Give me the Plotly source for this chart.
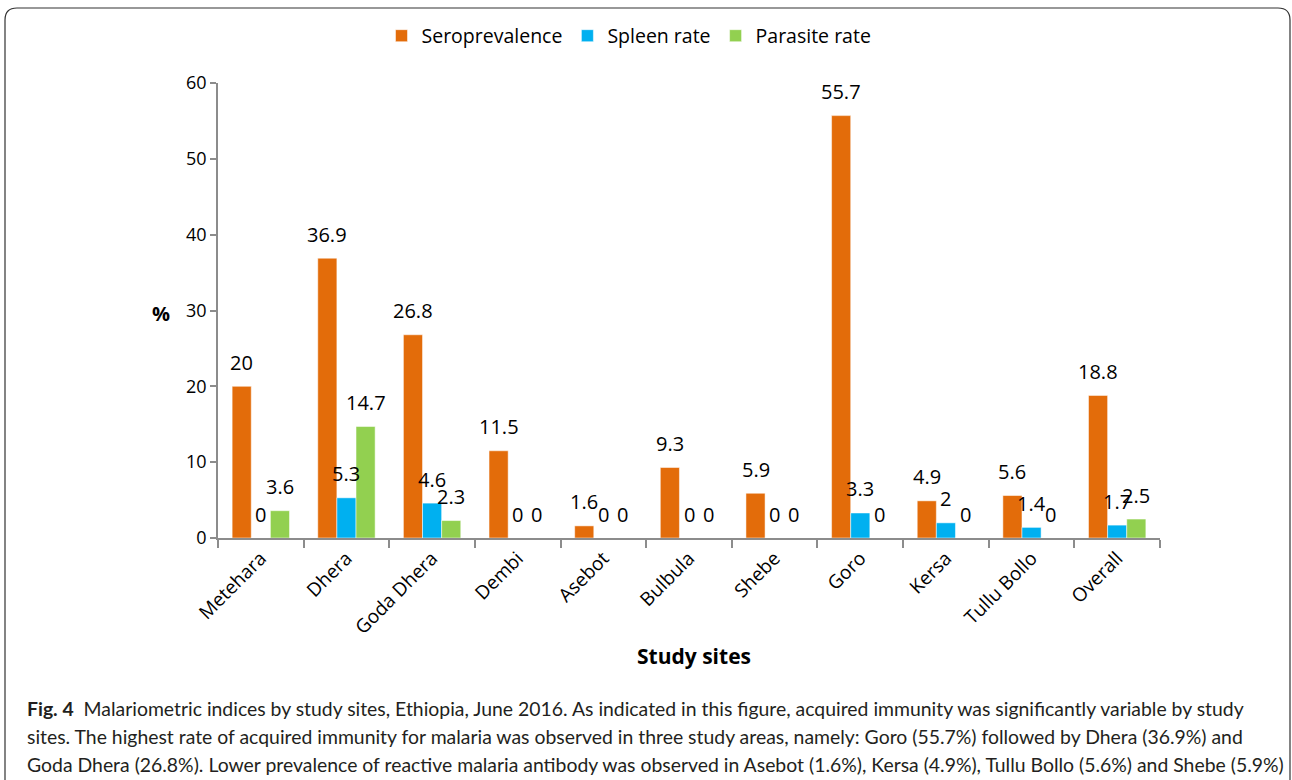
import plotly.graph_objects as go

sites = ["Metehara", "Dhera", "Goda Dhera", "Dembi", "Asebot", "Bulbula",
         "Shebe", "Goro", "Kersa", "Tullu Bollo", "Overall"]
seroprevalence = [20, 36.9, 26.8, 11.5, 1.6, 9.3, 5.9, 55.7, 4.9, 5.6, 18.8]
spleen_rate = [0, 5.3, 4.6, 0, 0, 0, 0, 3.3, 2, 1.4, 1.7]
parasite_rate = [3.6, 14.7, 2.3, 0, 0, 0, 0, 0, 0, 0, 2.5]
y_ticks = [0, 10, 20, 30, 40, 50, 60]

W, H = 1292, 780
L, R, T, B = 218, 1160, 83, 538
PW, PH = R - L, B - T
BARGAP = 0.33


def px(x):
    return (x - L) / PW


def py(y):
    return (B - y) / PH


FONT = "Open Sans, DejaVu Sans, sans-serif"
CAP_FONT = "Lato, sans-serif"

fig = go.Figure()
series = [("Seroprevalence", seroprevalence, "#E36C0A"),
          ("Spleen rate", spleen_rate, "#00B0F0"),
          ("Parasite rate", parasite_rate, "#92D050")]
for name, vals, col in series:
    fig.add_trace(go.Bar(
        x=sites, y=vals, name=name,
        marker=dict(color=col, line=dict(color="rgba(255,255,255,0.5)", width=1)),
        cliponaxis=False,
    ))

# data labels, placed at each bar's value through the axes
bar_px = PW / len(sites) * (1 - BARGAP) / len(series)
for i, (name, vals, col) in enumerate(series):
    for site, v in zip(sites, vals):
        fig.add_annotation(x=site, y=v, xref="x", yref="y", text=f"{v:g}",
                           showarrow=False, xshift=(i - 1) * bar_px, yshift=24,
                           yanchor="middle", font=dict(family=FONT, size=20, color="#000000"))

gray = "#8C8C8C"
fig.update_layout(
    width=W, height=H,
    margin=dict(l=L, r=W - R, t=T, b=H - B),
    paper_bgcolor="white", plot_bgcolor="white",
    barmode="group", bargap=BARGAP, bargroupgap=0,
    font=dict(family=FONT, size=18, color="#000000"),
    showlegend=True,
    legend=dict(orientation="h", x=px(629), xanchor="center", y=py(36), yanchor="middle",
                font=dict(family=FONT, size=19.5), traceorder="normal"),
    xaxis=dict(type="category", showline=True, linecolor=gray, linewidth=1.5,
               ticks="outside", tickson="boundaries", ticklen=8, tickcolor=gray,
               tickwidth=1.5, tickangle=-45, showgrid=False,
               tickfont=dict(family=FONT, size=19)),
    yaxis=dict(range=[0, 60], tickvals=y_ticks, showline=True, linecolor=gray,
               linewidth=1.5, ticks="outside", ticklen=6, tickcolor=gray, tickwidth=1.5,
               showgrid=False, zeroline=False, tickfont=dict(family=FONT, size=18)),
)

fig.add_annotation(text="<b>%</b>", x=px(150), y=py(313), xref="paper", yref="paper",
                   showarrow=False, font=dict(family=FONT, size=20))
fig.add_annotation(text="<b>Study sites</b>", x=px(694), y=py(672), xref="paper", yref="paper",
                   showarrow=False, font=dict(family=FONT, size=21))

captions = [
    "<b>Fig. 4</b>  Malariometric indices by study sites, Ethiopia, June 2016. As indicated in this figure, acquired immunity was significantly variable by study",
    "sites. The highest rate of acquired immunity for malaria was observed in three study areas, namely: Goro (55.7%) followed by Dhera (36.9%) and",
    "Goda Dhera (26.8%). Lower prevalence of reactive malaria antibody was observed in Asebot (1.6%), Kersa (4.9%), Tullu Bollo (5.6%) and Shebe (5.9%)",
]
for txt, yy in zip(captions, [708, 736, 764]):
    fig.add_annotation(text=txt, x=px(25), y=py(yy), xref="paper", yref="paper",
                       xanchor="left", yanchor="middle", showarrow=False, align="left",
                       font=dict(family=CAP_FONT, size=19.4, color="#231F20"))

# rounded frame
l, r, t, b = px(5), px(1290), py(8), py(800)
rx, ry = 12 / PW, 12 / PH
path = (f"M {l},{b} L {l},{t - ry} Q {l},{t} {l + rx},{t} "
        f"L {r - rx},{t} Q {r},{t} {r},{t - ry} L {r},{b}")
fig.add_shape(type="path", path=path, xref="paper", yref="paper",
              line=dict(color="#333333", width=1.2))

fig.write_html("out.html", config={"displayModeBar": False},
               post_script="document.body.style.margin='0';")
